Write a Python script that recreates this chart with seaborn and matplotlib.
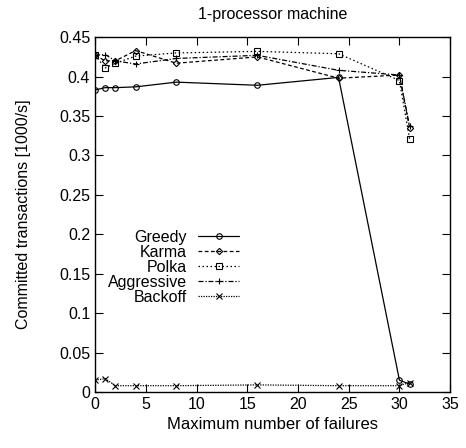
import matplotlib
matplotlib.use('Agg')
import matplotlib.pyplot as plt
import seaborn as sns
import pandas as pd

# values
failures = [0, 1, 2, 4, 8, 16, 24, 30, 31]
greedy = [0.383, 0.386, 0.386, 0.387, 0.393, 0.389, 0.399, 0.015, 0.010]
karma = [0.427, 0.420, 0.420, 0.433, 0.417, 0.425, 0.398, 0.402, 0.335]
polka = [0.427, 0.411, 0.417, 0.426, 0.430, 0.432, 0.429, 0.395, 0.321]
aggressive = [0.427, 0.428, 0.420, 0.416, 0.423, 0.427, 0.408, 0.402, 0.337]
backoff = [0.015, 0.017, 0.008, 0.008, 0.008, 0.009, 0.008, 0.008, 0.012]

series = {
    'Greedy': (greedy, '-', 'o'),
    'Karma': (karma, (0, (3, 2)), 'D'),
    'Polka': (polka, (0, (1.2, 2)), 's'),
    'Aggressive': (aggressive, (0, (4, 1.5, 1, 1.5)), '+'),
    'Backoff': (backoff, (0, (1, 1)), 'x'),
}

sns.set_style('ticks')
plt.rcParams['font.family'] = ['Liberation Sans', 'DejaVu Sans']
# plain black text like the original gnuplot output
for key in ['text.color', 'axes.labelcolor', 'xtick.color', 'ytick.color', 'axes.edgecolor']:
    plt.rcParams[key] = 'black'
fs = 11.5

fig = plt.figure(figsize=(4.66, 4.48), dpi=100)
ax = fig.add_axes([0.204, 0.125, 0.762, 0.792])

for name, (vals, ls, mk) in series.items():
    df = pd.DataFrame({'x': failures, 'y': vals})
    ms = {'D': 3.2, 'o': 4, 's': 4, '+': 5, 'x': 4}[mk]
    sns.lineplot(data=df, x='x', y='y', ax=ax, color='black', linewidth=0.9,
                 linestyle=ls, marker=mk, markersize=ms, markerfacecolor='none',
                 markeredgecolor='black', markeredgewidth=0.8, label=name)

ax.set_xlim(0, 35)
ax.set_ylim(0, 0.45)
ax.set_xticks(range(0, 36, 5))
yt = [i * 0.05 for i in range(10)]
ax.set_yticks(yt)
ax.set_yticklabels(['0', '0.05', '0.1', '0.15', '0.2', '0.25', '0.3', '0.35', '0.4', '0.45'])
ax.tick_params(direction='in', top=True, right=True, length=6, width=0.8, labelsize=fs)
for s in ax.spines.values():
    s.set_linewidth(1.0)
    s.set_visible(True)

ax.set_xlabel('Maximum number of failures', fontsize=12)
ax.set_ylabel('Committed transactions [1000/s]', fontsize=fs, labelpad=20)
ax.set_title('1-processor machine', fontsize=fs, pad=13)

ax.legend(loc='center left', bbox_to_anchor=(0.017, 0.351), frameon=False,
          markerfirst=False, handlelength=2.6, labelspacing=0.0,
          fontsize=fs, handletextpad=0.7, borderaxespad=0)

fig.savefig('out.png', dpi=100)
